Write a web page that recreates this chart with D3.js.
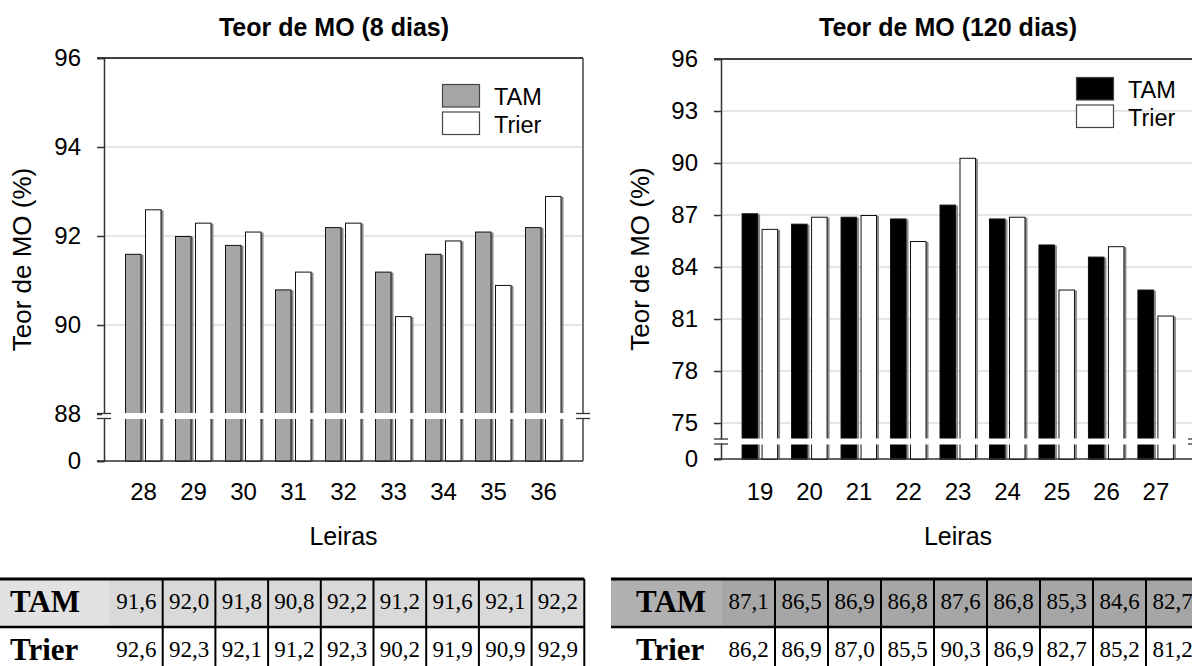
<!DOCTYPE html>
<html>
<head>
<meta charset="utf-8">
<script src="https://cdn.jsdelivr.net/npm/d3@7"></script>
<style>
  body { margin: 0; background: #fff; }
  svg { display: block; font-family: "Liberation Sans", Arial, sans-serif; }
</style>
</head>
<body>
<svg id="chart" width="1192" height="666"></svg>
<script>
// Teor de MO (8 dias)
const leiras8 = ["28", "29", "30", "31", "32", "33", "34", "35", "36"];
const tam8 = [91.6, 92.0, 91.8, 90.8, 92.2, 91.2, 91.6, 92.1, 92.2];
const trier8 = [92.6, 92.3, 92.1, 91.2, 92.3, 90.2, 91.9, 90.9, 92.9];
const ticks8 = [0, 88, 90, 92, 94, 96];

// Teor de MO (120 dias)
const leiras120 = ["19", "20", "21", "22", "23", "24", "25", "26", "27"];
const tam120 = [87.1, 86.5, 86.9, 86.8, 87.6, 86.8, 85.3, 84.6, 82.7];
const trier120 = [86.2, 86.9, 87.0, 85.5, 90.3, 86.9, 82.7, 85.2, 81.2];
const ticks120 = [0, 75, 78, 81, 84, 87, 90, 93, 96];

const series = ["TAM", "Trier"];

const svg = d3.select("#chart");
const fmt = v => d3.format(".1f")(v).replace(".", ",");

function drawChart(c) {
  const g = svg.append("g");

  // broken axis: 0 .. break value squeezed in the bottom strip
  const y = d3.scaleLinear()
    .domain([0, c.breakVal, c.maxVal])
    .range([c.y0, c.yBreak, c.yTop]);

  const x = d3.scaleBand()
    .domain(c.cats)
    .range([c.x0, c.x1])
    .paddingInner(0)
    .paddingOuter(0.29);

  const xs = d3.scaleBand()
    .domain(series)
    .range([0, 37])
    .paddingInner(0.15);
  const off = (x.bandwidth() - 37) / 2;

  const color = {TAM: c.tamColor, Trier: "#ffffff"};

  // grid
  g.append("g")
    .selectAll("line")
    .data(c.ticks.filter(t => t > 0 && t < c.maxVal))
    .join("line")
      .attr("x1", c.x0).attr("x2", c.x1)
      .attr("y1", d => y(d)).attr("y2", d => y(d))
      .attr("stroke", "#dcdcdc")
      .attr("stroke-width", 1.5);

  // bars
  const rows = c.cats.map((k, i) => ({cat: k, TAM: c.tam[i], Trier: c.trier[i]}));
  const bars = g.append("g")
    .selectAll("g")
    .data(rows)
    .join("g")
      .attr("transform", d => `translate(${x(d.cat) + off},0)`);

  bars.selectAll("rect.shadow")
    .data(d => series.map(s => ({key: s, value: d[s]})))
    .join("rect")
      .attr("class", "shadow")
      .attr("x", d => xs(d.key) + 1.5)
      .attr("y", d => y(d.value) + 1)
      .attr("width", xs.bandwidth())
      .attr("height", d => c.y0 - y(d.value) - 1)
      .attr("fill", "#8a8a8a");

  bars.selectAll("rect.bar")
    .data(d => series.map(s => ({key: s, value: d[s]})))
    .join("rect")
      .attr("class", "bar")
      .attr("x", d => xs(d.key) + 0.5)
      .attr("y", d => y(d.value) + 0.5)
      .attr("width", xs.bandwidth() - 1.5)
      .attr("height", d => c.y0 - y(d.value))
      .attr("fill", d => color[d.key])
      .attr("stroke", "#111")
      .attr("stroke-width", 1);

  // white break strip across the bars
  g.append("rect")
    .attr("x", c.x0 + 1).attr("y", c.breakY - 3)
    .attr("width", c.x1 - c.x0 - 2).attr("height", 6)
    .attr("fill", "#fff");

  // frame: top and right
  g.append("line")
    .attr("x1", c.x0 - 7).attr("x2", c.x1)
    .attr("y1", c.yTop).attr("y2", c.yTop)
    .attr("stroke", "#000").attr("stroke-width", 1.5);
  g.append("line")
    .attr("x1", c.x1).attr("x2", c.x1)
    .attr("y1", c.yTop).attr("y2", c.y0)
    .attr("stroke", "#444").attr("stroke-width", 1.5);

  // y axis
  const ya = g.append("g")
    .attr("transform", `translate(${c.x0},0)`)
    .call(d3.axisLeft(y).tickValues(c.ticks).tickSize(7).tickPadding(16));
  ya.select(".domain").attr("stroke", "#333").attr("stroke-width", 1.5);
  ya.selectAll(".tick line").attr("stroke", "#333").attr("stroke-width", 1.5);
  ya.selectAll(".tick text")
    .attr("font-size", 24)
    .attr("font-family", "Liberation Sans, Arial, sans-serif")
    .attr("fill", "#000");

  // baseline
  g.append("line")
    .attr("x1", c.x0 - 7).attr("x2", c.x1)
    .attr("y1", c.y0).attr("y2", c.y0)
    .attr("stroke", "#333").attr("stroke-width", 1.5);

  // break marks on both vertical edges
  [c.x0, c.x1].forEach(xx => {
    g.append("rect")
      .attr("x", xx - 2).attr("y", c.breakY - 2)
      .attr("width", 4).attr("height", 4)
      .attr("fill", "#fff");
    [c.breakY - 2.5, c.breakY + 2.5].forEach(yy => {
      g.append("line")
        .attr("x1", xx - 7).attr("x2", xx + 7)
        .attr("y1", yy).attr("y2", yy)
        .attr("stroke", "#333").attr("stroke-width", 1.3);
    });
  });

  // x axis labels
  const xa = g.append("g")
    .attr("transform", `translate(0,${c.y0})`)
    .call(d3.axisBottom(x).tickSize(0).tickPadding(483 - c.y0));
  xa.select(".domain").remove();
  xa.selectAll(".tick text")
    .attr("font-size", 24)
    .attr("font-family", "Liberation Sans, Arial, sans-serif")
    .attr("fill", "#000");

  // titles
  g.append("text")
    .attr("x", c.titleX).attr("y", 36)
    .attr("text-anchor", "middle")
    .attr("font-size", 25).attr("font-weight", "bold")
    .text(c.title);

  g.append("text")
    .attr("x", (c.x0 + c.x1) / 2).attr("y", 545)
    .attr("text-anchor", "middle")
    .attr("font-size", 25)
    .text("Leiras");

  g.append("text")
    .attr("transform", `translate(${c.yLabelX},${(c.yTop + c.y0) / 2}) rotate(-90)`)
    .attr("text-anchor", "middle")
    .attr("dy", "0.35em")
    .attr("font-size", 26)
    .text("Teor de MO (%)");

  // legend
  const lg = g.append("g")
    .attr("transform", `translate(${c.legX},${c.legY})`);
  series.forEach((s, i) => {
    lg.append("rect")
      .attr("x", 0.5).attr("y", i * 27.5 + 0.5)
      .attr("width", 37).attr("height", 22.5)
      .attr("fill", color[s])
      .attr("stroke", "#444").attr("stroke-width", 1.2);
    lg.append("text")
      .attr("x", 52).attr("y", i * 27.5 + 21)
      .attr("font-size", 23.5)
      .text(s);
  });
}

function drawTable(t) {
  const g = svg.append("g");
  const rowH = 48;
  const rowsT = [{name: "TAM", vals: t.tam}, {name: "Trier", vals: t.trier}];
  const cx = d3.scaleBand()
    .domain(d3.range(t.tam.length))
    .range([t.x + t.headW, t.x + t.headW + t.colW * t.tam.length]);

  // row fills
  g.append("rect")
    .attr("x", t.x).attr("y", t.top)
    .attr("width", t.headW + t.colW * t.tam.length).attr("height", rowH)
    .attr("fill", t.fill);
  g.append("rect")
    .attr("x", t.x).attr("y", t.top)
    .attr("width", t.headW).attr("height", rowH)
    .attr("fill", t.headFill);

  rowsT.forEach((r, ri) => {
    const ty = t.top + ri * rowH;
    g.append("text")
      .attr("x", t.x + t.textPad).attr("y", ty + 33)
      .attr("font-family", "Liberation Serif, Times New Roman, serif")
      .attr("font-weight", "bold")
      .attr("font-size", 31)
      .text(r.name);
    g.append("g")
      .selectAll("text")
      .data(r.vals)
      .join("text")
        .attr("x", (d, i) => cx(i) + cx.bandwidth() / 2)
        .attr("y", ty + 30)
        .attr("text-anchor", "middle")
        .attr("font-family", "Liberation Serif, Times New Roman, serif")
        .attr("font-size", 23)
        .text(d => fmt(d));
  });

  // rules
  const right = t.x + t.headW + t.colW * t.tam.length;
  g.append("line")
    .attr("x1", t.x).attr("x2", right)
    .attr("y1", t.top).attr("y2", t.top)
    .attr("stroke", "#000").attr("stroke-width", 3);
  g.append("line")
    .attr("x1", t.x).attr("x2", right)
    .attr("y1", t.top + rowH).attr("y2", t.top + rowH)
    .attr("stroke", "#000").attr("stroke-width", 2.5);
  g.append("g")
    .selectAll("line")
    .data(d3.range(1, t.tam.length + 1))
    .join("line")
      .attr("x1", i => cx(0) + i * t.colW).attr("x2", i => cx(0) + i * t.colW)
      .attr("y1", t.top).attr("y2", t.top + rowH * 2)
      .attr("stroke", "#000").attr("stroke-width", 2);
}

drawChart({
  cats: leiras8, tam: tam8, trier: trier8, ticks: ticks8,
  breakVal: 88, maxVal: 96,
  x0: 104, x1: 583, y0: 461, yBreak: 414, yTop: 58, breakY: 416,
  tamColor: "#a6a6a6", title: "Teor de MO (8 dias)", titleX: 334,
  yLabelX: 22, legX: 442, legY: 84
});

drawChart({
  cats: leiras120, tam: tam120, trier: trier120, ticks: ticks120,
  breakVal: 75, maxVal: 96,
  x0: 721, x1: 1195, y0: 459, yBreak: 423, yTop: 59, breakY: 441.5,
  tamColor: "#000000", title: "Teor de MO (120 dias)", titleX: 948,
  yLabelX: 640, legX: 1076, legY: 77
});

drawTable({
  tam: tam8, trier: trier8, x: 0, headW: 110, colW: 52.7, top: 579,
  textPad: 10, fill: "#d9d9d9", headFill: "#e2e2e2"
});

drawTable({
  tam: tam120, trier: trier120, x: 611, headW: 111, colW: 53, top: 579,
  textPad: 25, fill: "#a6a6a6", headFill: "#b0b0b0"
});
</script>
</body>
</html>
